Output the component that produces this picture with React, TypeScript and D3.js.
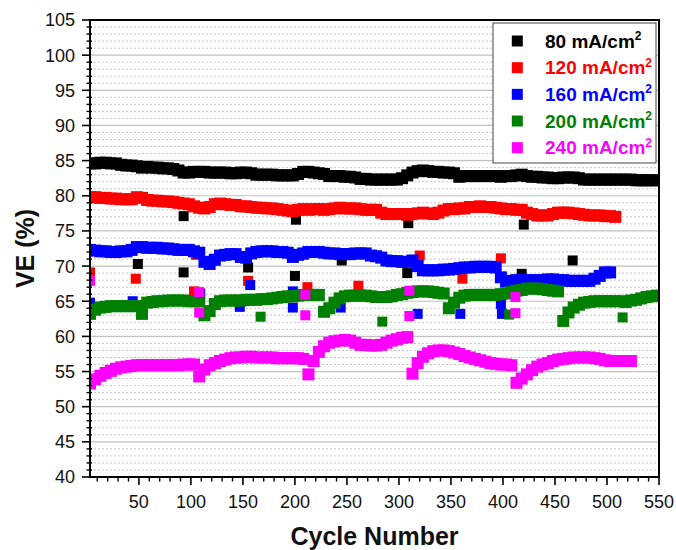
import React from 'react';
import * as d3 from 'd3';

const WIDTH = 676;
const HEIGHT = 550;

// band points are one every BAND_STEP cycles, starting at BAND_START
const BAND_START = 3;
const BAND_STEP = 5;

const ve80 = [
  84.6, 84.6, 84.7, 84.7, 84.6, 84.6, 84.4, 84.3, 84.3, 84.2,
  84.0, 84.1, 84.0, 84.0, 83.9, 83.9, 83.8, 83.6, 83.3, 83.3,
  83.4, 83.4, 83.4, 83.3, 83.3, 83.3, 83.3, 83.2, 83.2, 83.3,
  83.3, 83.2, 83.0, 83.0, 83.0, 83.0, 82.9, 82.9, 82.9, 82.9,
  83.1, 83.4, 83.4, 83.3, 83.2, 83.1, 82.8, 82.8, 82.8, 82.7,
  82.7, 82.6, 82.4, 82.4, 82.3, 82.3, 82.3, 82.3, 82.3, 82.3,
  82.5, 82.9, 83.3, 83.5, 83.6, 83.5, 83.4, 83.4, 83.3, 83.3,
  83.2, 82.7, 82.8, 82.8, 82.8, 82.8, 82.8, 82.8, 82.8, 82.7,
  82.8, 82.8, 82.9, 83.0, 82.8, 82.7, 82.7, 82.6, 82.6, 82.5,
  82.5, 82.6, 82.6, 82.6, 82.5, 82.3, 82.3, 82.3, 82.3, 82.3,
  82.3, 82.3, 82.3, 82.3, 82.3, 82.2, 82.2, 82.2, 82.2, 82.2,
];

const ve120 = [
  79.8, 79.8, 79.7, 79.7, 79.6, 79.6, 79.5, 79.5, 79.5, 79.8,
  79.7, 79.4, 79.3, 79.3, 79.2, 79.2, 79.1, 79.0, 78.9, 78.8,
  78.5, 78.3, 78.2, 78.4, 78.8, 78.9, 78.8, 78.7, 78.7, 78.5,
  78.5, 78.4, 78.3, 78.3, 78.2, 78.2, 78.1, 78.0, 77.9, 77.8,
  78.0, 78.1, 78.0, 78.1, 78.1, 78.0, 78.1, 78.2, 78.3, 78.2,
  78.2, 78.2, 78.1, 78.0, 78.0, 78.0, 77.6, 77.4, 77.4, 77.4,
  77.4, 77.3, 77.4, 77.5, 77.6, 77.5, 77.4, 77.6, 77.9, 78.1,
  78.1, 78.2, 78.2, 78.4, 78.4, 78.5, 78.4, 78.4, 78.3, 78.2,
  78.1, 78.1, 78.0, 78.0, 77.6, 77.4, 77.2, 77.2, 77.2, 77.4,
  77.6, 77.6, 77.6, 77.5, 77.4, 77.3, 77.2, 77.2, 77.2, 77.1,
  77.1, 77.0,
];

const ve160 = [
  72.3, 72.2, 72.1, 72.1, 72.0, 72.0, 72.1, 72.1, 72.3, 72.7,
  72.7, 72.6, 72.6, 72.6, 72.5, 72.5, 72.4, 72.3, 72.3, 72.3,
  72.1, 71.9, 70.6, 70.3, 70.9, 71.5, 71.6, 71.7, 71.7, 71.3,
  71.2, 71.8, 72.0, 72.1, 72.1, 72.1, 72.0, 72.0, 71.9, 71.3,
  71.6, 71.8, 72.0, 72.0, 72.0, 71.9, 71.8, 71.8, 71.7, 71.7,
  71.7, 71.8, 71.8, 71.8, 71.5, 71.4, 71.2, 70.8, 70.7, 70.7,
  70.6, 70.6, 70.8, 70.0, 69.4, 69.4, 69.4, 69.4, 69.5, 69.5,
  69.6, 69.7, 69.8, 69.8, 69.9, 69.9, 69.9, 69.9, 69.8, 68.4,
  67.8, 67.9, 68.0, 68.0, 68.0, 68.0, 68.0, 68.0, 68.1, 68.1,
  68.0, 68.0, 67.9, 67.9, 67.9, 67.9, 67.9, 68.2, 68.6, 69.1,
  69.1,
];

const ve200 = [
  63.2, 63.8, 64.1, 64.2, 64.3, 64.3, 64.3, 64.3, 64.3, 64.3,
  63.2, 64.8, 64.9, 65.0, 65.0, 65.1, 65.1, 65.1, 65.1, 65.0,
  65.0, 65.0, 63.0, 63.6, 64.6, 65.0, 65.1, 65.1, 65.1, 65.1,
  65.2, 65.2, 65.2, 65.3, 65.3, 65.4, 65.5, 65.6, 65.7, 65.7,
  65.8, 65.9, 65.9, 65.9, 65.9, 63.5, 64.0, 64.8, 65.4, 65.7,
  65.8, 65.8, 65.8, 65.8, 65.7, 65.6, 65.6, 65.6, 65.7, 65.9,
  66.0, 66.2, 66.3, 66.4, 66.4, 66.4, 66.3, 66.2, 66.1, 64.0,
  64.8, 65.5, 65.8, 65.9, 65.9, 65.9, 65.9, 65.9, 65.9, 66.0,
  66.1, 66.3, 66.5, 66.6, 66.8, 66.8, 66.8, 66.7, 66.6, 66.5,
  66.4, 62.2, 63.4, 64.1, 64.5, 64.8, 64.9, 65.0, 65.0, 65.0,
  65.0, 65.0, 65.0, 64.9, 65.1, 65.2, 65.4, 65.6, 65.7, 65.8,
];

const ve240 = [
  53.3, 53.9, 54.4, 54.8, 55.1, 55.4, 55.6, 55.7, 55.8, 55.9,
  55.9, 55.9, 55.9, 55.9, 55.9, 55.9, 55.9, 55.9, 56.0, 56.0,
  56.0, 54.3, 55.3, 55.9, 56.2, 56.5, 56.7, 56.9, 57.0, 57.0,
  57.1, 57.1, 57.0, 57.0, 57.0, 57.0, 56.9, 56.9, 56.9, 56.9,
  56.9, 56.8, 54.6, 56.5, 57.8, 58.6, 59.1, 59.3, 59.4, 59.5,
  59.4, 59.1, 58.8, 58.8, 58.7, 58.7, 58.8, 59.1, 59.4, 59.6,
  59.8, 59.9, 54.7, 56.2, 57.1, 57.6, 57.9, 58.0, 58.0, 57.9,
  57.7, 57.5, 57.2, 57.0, 56.8, 56.6, 56.4, 56.2, 56.1, 56.0,
  56.0, 55.9, 53.4, 54.0, 54.6, 55.2, 55.7, 56.0, 56.2, 56.5,
  56.7, 56.8, 56.9, 57.0, 57.0, 57.0, 57.0, 56.9, 56.8, 56.6,
  56.5, 56.5, 56.5, 56.5, 56.5,
];

// scattered points: [cycle, VE]
const stray80: [number, number][] = [
  [49, 70.3], [93, 77.1], [93, 69.1], [155, 69.8], [200, 68.6], [201, 76.6],
  [245, 70.8], [308, 69.0], [309, 76.1], [418, 68.9], [420, 75.9], [467, 70.8],
];
const stray120: [number, number][] = [
  [3, 69.1], [47, 68.2], [103, 66.4], [105, 71.6], [155, 67.9], [208, 71.6],
  [212, 67.0], [261, 67.2], [320, 71.5], [361, 68.2], [398, 71.1],
];
const stray160: [number, number][] = [
  [3, 64.8], [44, 65.0], [109, 66.1], [147, 64.2], [157, 67.3], [198, 66.4],
  [198, 64.1], [244, 64.1], [318, 63.2], [359, 63.2], [398, 64.6], [399, 63.2],
];
const stray200: [number, number][] = [
  [167, 62.8], [284, 62.1], [406, 63.1], [515, 62.7],
];
const stray240: [number, number][] = [
  [3, 67.9], [108, 66.3], [108, 63.4], [210, 65.9], [210, 63.0],
  [310, 66.5], [310, 62.9], [412, 65.6], [412, 63.3],
];

const densities = ['80', '120', '160', '200', '240'];
const colors = ['#000000', '#ff0000', '#0000ff', '#008000', '#ff00ff'];
const bands = [ve80, ve120, ve160, ve200, ve240];
const strays = [stray80, stray120, stray160, stray200, stray240];

const yTicks = [40, 45, 50, 55, 60, 65, 70, 75, 80, 85, 90, 95, 100, 105];
const xTicks = [50, 100, 150, 200, 250, 300, 350, 400, 450, 500, 550];

const FONT = '"Liberation Sans", Arial, sans-serif';

export default function App() {
  const x = d3.scaleLinear().domain([3, 550]).range([90, 659]);
  const y = d3.scaleLinear().domain([40, 105]).range([477, 20]);
  const [x0, x1] = x.range();
  const [y0, y1] = y.range();

  const minorY = d3.range(41, 105).filter((v) => v % 5 !== 0);
  const minorX = d3.range(10, 550, 10).filter((v) => v % 50 !== 0);

  const bandSize = 12;
  const straySize = 10;

  return (
    <svg
      width={WIDTH}
      height={HEIGHT}
      style={{ position: 'absolute', left: 0, top: 0, background: '#fff' }}
      fontFamily={FONT}
    >
      <defs>
        <clipPath id="plot-clip">
          <rect x={x0} y={y1} width={x1 - x0} height={y0 - y1} />
        </clipPath>
      </defs>

      {/* grid */}
      {minorY.map((v) => (
        <line key={'mg' + v} x1={x0} x2={x1} y1={y(v)} y2={y(v)}
          stroke="#c4c4c4" strokeWidth={1} strokeDasharray="2,2" />
      ))}
      {yTicks.slice(1, -1).map((v) => (
        <line key={'g' + v} x1={x0} x2={x1} y1={y(v)} y2={y(v)}
          stroke="#c0c0c0" strokeWidth={1.2} />
      ))}

      {/* data */}
      <g clipPath="url(#plot-clip)">
        {bands.map((band, si) => (
          <g key={'s' + si} fill={colors[si]}>
            {band.map((v, i) => (
              <rect key={i}
                x={x(BAND_START + i * BAND_STEP) - bandSize / 2}
                y={y(v) - bandSize / 2}
                width={bandSize} height={bandSize} />
            ))}
            {strays[si].map(([c, v], i) => (
              <rect key={'o' + i}
                x={x(c) - straySize / 2}
                y={y(v) - straySize / 2}
                width={straySize} height={straySize} />
            ))}
          </g>
        ))}
      </g>

      {/* frame */}
      <rect x={x0} y={y1} width={x1 - x0} height={y0 - y1}
        fill="none" stroke="#000" strokeWidth={2} />

      {/* y axis ticks */}
      {yTicks.map((v) => (
        <g key={'yt' + v}>
          <line x1={x0 - 8} x2={x0} y1={y(v)} y2={y(v)} stroke="#000" strokeWidth={1.6} />
          <text x={75} y={y(v)} dy="0.36em" textAnchor="end" fontSize={18} fill="#111">{v}</text>
        </g>
      ))}
      {minorY.map((v) => (
        <line key={'ym' + v} x1={x0 - 3.5} x2={x0 + 2} y1={y(v)} y2={y(v)} stroke="#000" strokeWidth={1.4} />
      ))}

      {/* x axis ticks */}
      {xTicks.map((v) => (
        <g key={'xt' + v}>
          <line x1={x(v)} x2={x(v)} y1={y0} y2={y0 + 8} stroke="#000" strokeWidth={1.6} />
          <text x={x(v)} y={508} textAnchor="middle" fontSize={18} fill="#111">{v}</text>
        </g>
      ))}
      {minorX.map((v) => (
        <line key={'xm' + v} x1={x(v)} x2={x(v)} y1={y0} y2={y0 + 4.5} stroke="#000" strokeWidth={1.4} />
      ))}

      {/* axis titles */}
      <text x={(x0 + x1) / 2} y={545} textAnchor="middle" fontSize={25} fontWeight="bold" fill="#111">
        Cycle Number
      </text>
      <text transform={`translate(34,${(y0 + y1) / 2}) rotate(-90)`} textAnchor="middle"
        fontSize={25} fontWeight="bold" fill="#111">
        VE (%)
      </text>

      {/* legend */}
      <rect x={493} y={23} width={163} height={140} fill="#fff" stroke="#444" strokeWidth={1} />
      {densities.map((d, i) => {
        const cy = 41 + i * 26.67;
        return (
          <g key={'lg' + d}>
            <rect x={517.3 - 5.5} y={cy - 5.5} width={11} height={11} fill={colors[i]} />
            <text x={545} y={cy + 6.5} fontSize={19} fontWeight="bold" fill={colors[i]}>
              {d} mA/cm
              <tspan fontSize={12} dy={-7.5}>2</tspan>
            </text>
          </g>
        );
      })}
    </svg>
  );
}
